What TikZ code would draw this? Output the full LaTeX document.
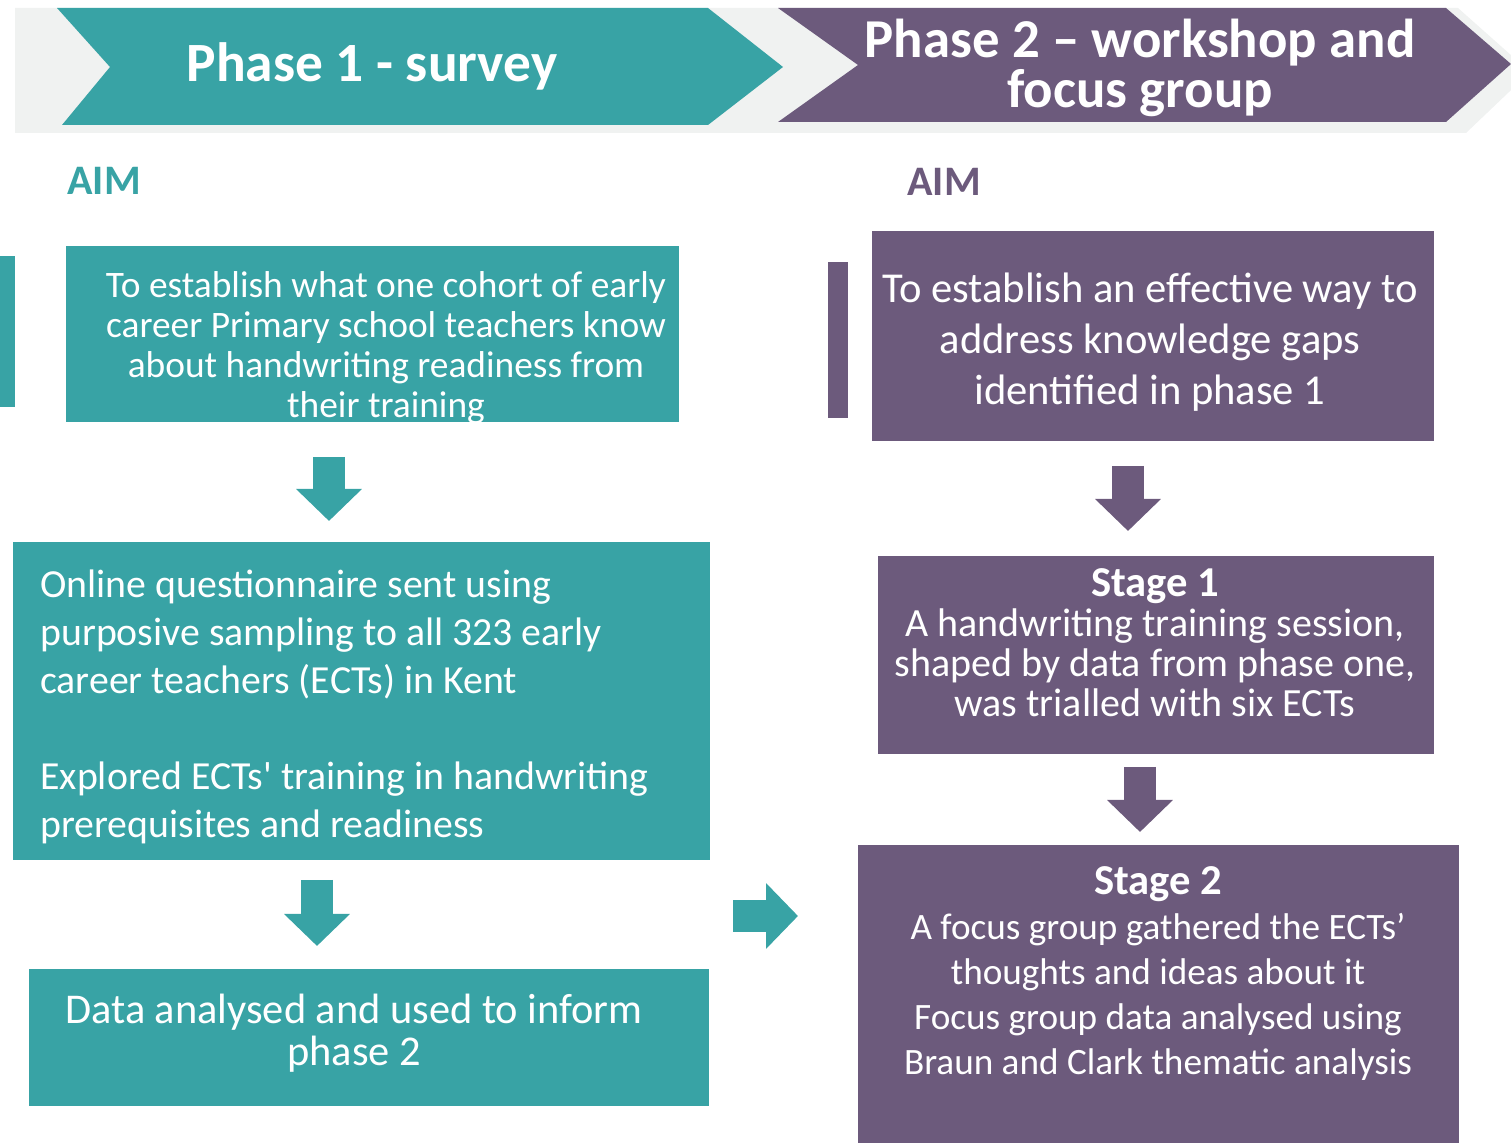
\documentclass[tikz,border=0pt]{standalone}
\usepackage{fontspec}
\setmainfont{Carlito}
\usetikzlibrary{
  arrows.meta,
  positioning,
}
\definecolor{phaseteal}{HTML}{38A3A5}
\definecolor{phasepurple}{HTML}{6C5A7C}
\definecolor{bandgray}{HTML}{F0F2F1}
\tikzset{
  >={Triangle[length=16pt, width=32pt]},
}

\begin{document}
\begin{tikzpicture}[x=0.5pt, y=-0.5pt,
    tealbox/.style={fill=phaseteal, inner sep=0pt, anchor=north west},
    purplebox/.style={fill=phasepurple, inner sep=0pt, anchor=north west},
    boxtext/.style={text=white, align=center, inner sep=0pt},
    aimlabel/.style={anchor=west, inner sep=0pt, font=\fontsize{21}{24}\selectfont\bfseries},
    bigarrow/.style={line width=16pt, ->},
  ]
  \useasboundingbox (0,0) rectangle (1511,1143);

  % header band
  \fill[bandgray] (15,8) -- (1458,8) -- (1530,72) -- (1466,133) -- (15,133) -- cycle;
  \fill[phaseteal] (57,8) -- (708,8) -- (783,67) -- (708,125) -- (62,125) -- (110,67) -- cycle;
  \fill[phasepurple] (778,8) -- (1446,8) -- (1511,64) -- (1446,122) -- (778,122) -- (858,65) -- cycle;
  \node[boxtext, font=\fontsize{27.7}{24}\selectfont\bfseries] (phase1) at (372,66) {Phase 1 - survey};
  \node[boxtext, font=\fontsize{27.4}{25}\selectfont\bfseries] (phase2) at (1140,68)
    {Phase 2 -- workshop and\\focus group};

  % aims
  \node[aimlabel, text=phaseteal] (aimleft) at (67,181) {AIM};
  \node[aimlabel, text=phasepurple] (aimright) at (907,182) {AIM};
  \fill[phaseteal] (0,256) rectangle (15,407);
  \fill[phasepurple] (828,262) rectangle (848,418);

  % phase 1 column
  \node[tealbox, minimum width=306.5pt, minimum height=88pt] (aim1) at (66,246) {};
  \node[boxtext, font=\fontsize{18.7}{20}\selectfont] (aim1text) at (386,348)
    {To establish what one cohort of early\\career Primary school teachers know\\
     about handwriting readiness from\\their training};

  \node[tealbox, minimum width=348.5pt, minimum height=159pt] (method1) at (13,542) {};
  \node[boxtext, align=left, anchor=west, font=\fontsize{19.9}{24}\selectfont] (method1text) at (40,707)
    {Online questionnaire sent using\\purposive sampling to all 323 early\\
     career teachers (ECTs) in Kent\\[24pt]
     Explored ECTs\textquotesingle{} training in handwriting\\prerequisites and readiness};

  \node[tealbox, minimum width=340pt, minimum height=68.5pt] (result1) at (29,969) {};
  \node[boxtext, font=\fontsize{21.2}{21}\selectfont] (result1text) at (354,1033)
    {Data analysed and used to inform\\phase 2};

  % phase 2 column
  \node[purplebox, minimum width=281pt, minimum height=105pt] (aim2) at (872,231) {};
  \node[boxtext, font=\fontsize{21.3}{25.5}\selectfont] (aim2text) at (1150,342)
    {To establish an effective way to\\address knowledge gaps\\identified in phase 1};

  \node[purplebox, minimum width=278pt, minimum height=99pt] (stage1) at (878,556) {};
  \node[boxtext, font=\fontsize{20}{20}\selectfont] (stage1text) at (1155,643)
    {{\fontsize{21.3}{20}\selectfont\bfseries Stage 1}\\A handwriting training session,\\
     shaped by data from phase one,\\was trialled with six ECTs};

  \node[purplebox, minimum width=300.5pt, minimum height=149pt] (stage2) at (858,845) {};
  \node[boxtext, font=\fontsize{18.6}{22.5}\selectfont] (stage2text) at (1158,974)
    {{\fontsize{21.3}{22.5}\selectfont\bfseries Stage 2}\\A focus group gathered the ECTs’\\
     thoughts and ideas about it\\Focus group data analysed using\\Braun and Clark thematic analysis};

  % block arrows
  \coordinate (arr1a) at (329,457);
  \coordinate (arr1b) at (329,521);
  \coordinate (arr2a) at (317,880);
  \coordinate (arr2b) at (317,946);
  \coordinate (arr3a) at (733,916);
  \coordinate (arr3b) at (798,916);
  \coordinate (arr4a) at (1128,466);
  \coordinate (arr4b) at (1128,531);
  \coordinate (arr5a) at (1140,767);
  \coordinate (arr5b) at (1140,832);

  \draw[bigarrow, phaseteal] (arr1a) -- (arr1b);
  \draw[bigarrow, phaseteal] (arr2a) -- (arr2b);
  \draw[bigarrow, phaseteal] (arr3a) -- (arr3b);
  \draw[bigarrow, phasepurple] (arr4a) -- (arr4b);
  \draw[bigarrow, phasepurple] (arr5a) -- (arr5b);
\end{tikzpicture}
\end{document}
